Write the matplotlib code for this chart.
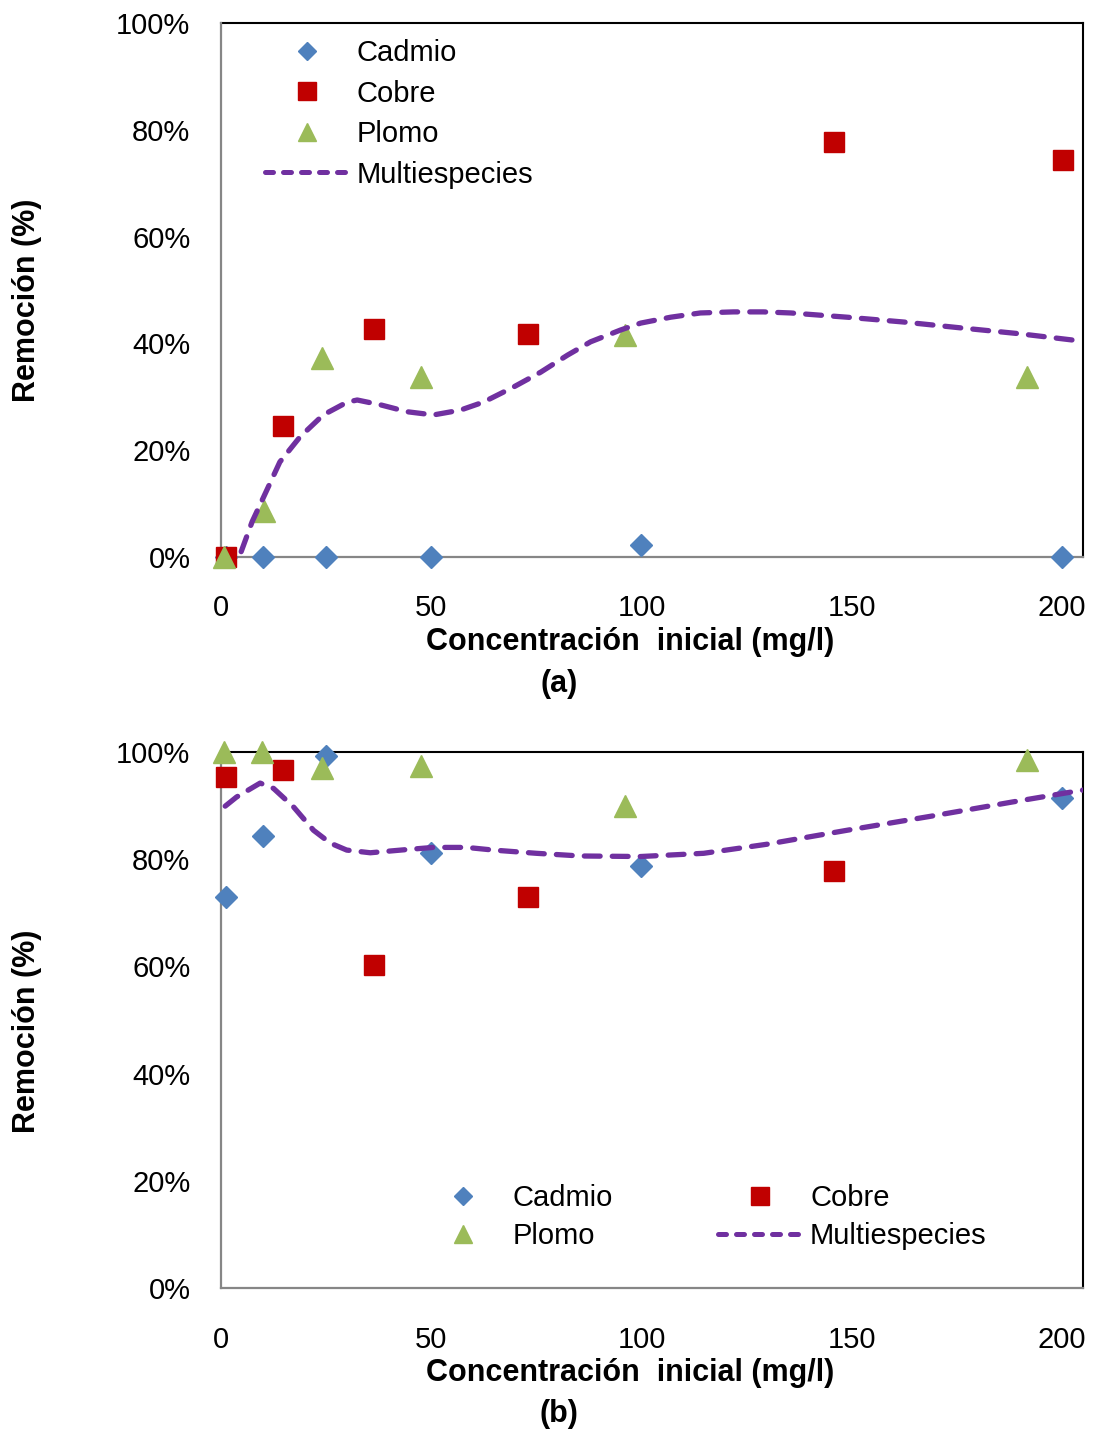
import matplotlib
matplotlib.use("Agg")
import matplotlib.pyplot as plt
from matplotlib.ticker import PercentFormatter
from matplotlib.lines import Line2D

plt.rcParams['font.family'] = ['Liberation Sans', 'DejaVu Sans']

# ---------------- data: panel (a) ----------------
a_cadmio_x = [1.2, 10, 25, 50, 100, 200]
a_cadmio_y = [0, 0, 0, 0, 2.2, 0]
a_cobre_x = [1.2, 14.7, 36.4, 72.9, 145.7, 200.2]
a_cobre_y = [0, 24.5, 42.7, 41.8, 77.7, 74.3]
a_plomo_x = [0.7, 10.2, 24, 47.6, 96, 191.7]
a_plomo_y = [0, 8.6, 37.3, 33.7, 41.6, 33.7]
a_multi_x = [4.8, 7.4, 11, 14, 18.8, 24.3, 30, 32.4, 37.9, 44.3, 50.5, 56.9,
             62.4, 69.5, 76, 82.4, 87.9, 95, 99.8, 106.9, 114, 121.9, 129,
             135.5, 149, 162.4, 176, 190, 205]
a_multi_y = [1.0, 6.6, 12.7, 17.8, 22.5, 26.6, 29.0, 29.4, 28.5, 27.2, 26.6, 27.5,
             29.0, 31.8, 34.6, 37.8, 40.3, 42.5, 43.8, 44.9, 45.7, 45.9, 45.9,
             45.7, 44.9, 44.0, 42.9, 41.8, 40.4]

# ---------------- data: panel (b) ----------------
b_cadmio_x = [1.2, 10, 25, 50, 100, 200]
b_cadmio_y = [72.9, 84.3, 99.3, 81.2, 78.7, 91.4]
b_cobre_x = [1.2, 14.7, 36.4, 72.9, 145.7]
b_cobre_y = [95.3, 96.6, 60.3, 72.9, 77.8]
b_plomo_x = [0.7, 9.8, 24, 47.6, 96, 191.7]
b_plomo_y = [100, 100, 97.0, 97.4, 89.9, 98.6]
b_multi_x = [1, 3.7, 9.3, 12.5, 17.2, 22, 26, 29.9, 35.5, 44.2, 50.5, 58.4,
             64.8, 75, 85.5, 99.8, 114.8, 129.9, 148.9, 168.7, 188.4, 203.5, 205]
b_multi_y = [89.9, 91.6, 94.2, 93.2, 89.8, 85.4, 83.0, 81.7, 81.2, 81.8, 82.2, 82.2,
             81.7, 81.1, 80.6, 80.5, 81.1, 82.8, 85.4, 88.0, 90.7, 92.7, 92.9]

x_ticks = [0, 50, 100, 150, 200]
y_ticks = [0, 20, 40, 60, 80, 100]
xlabel = "Concentración  inicial (mg/l)"
ylabel = "Remoción (%)"
labels = ['Cadmio', 'Cobre', 'Plomo', 'Multiespecies']

C_CD = '#4F81BD'
C_CU = '#C00000'
C_PB = '#9BBB59'
C_MU = '#7030A0'

FS = 21
FSB = 22

W, H = 1094, 1429
fig = plt.figure(figsize=(W / 100, H / 100), dpi=100)


def make_axes(top_px, bot_px):
    left, right = 221, 1083
    return fig.add_axes([left / W, 1 - bot_px / H, (right - left) / W, (bot_px - top_px) / H])


def style(ax):
    ax.set_xlim(0, 205)
    ax.set_ylim(0, 100)
    ax.set_xticks(x_ticks)
    ax.set_yticks(y_ticks)
    ax.yaxis.set_major_formatter(PercentFormatter(xmax=100, decimals=0))
    ax.tick_params(length=0, labelsize=FS)
    ax.tick_params(axis='y', pad=22)
    ax.tick_params(axis='x', pad=27)
    for s in ['top', 'right']:
        ax.spines[s].set_color('black')
        ax.spines[s].set_linewidth(1.5)
    for s in ['left', 'bottom']:
        ax.spines[s].set_color('#868686')
        ax.spines[s].set_linewidth(1.6)
        ax.spines[s].set_zorder(3)
    ax.set_xlabel(xlabel, fontsize=FSB, fontweight='bold')
    ax.set_ylabel(ylabel, fontsize=FSB, fontweight='bold')
    ax.xaxis.label.set_verticalalignment('center')
    ax.yaxis.label.set_verticalalignment('center')


def draw(ax, cdx, cdy, cux, cuy, pbx, pby, mux, muy):
    h1, = ax.plot(cdx, cdy, linestyle='none', marker='D', ms=11.7, color=C_CD,
                  clip_on=False, zorder=4)
    h2, = ax.plot(cux, cuy, linestyle='none', marker='s', ms=15, color=C_CU,
                  clip_on=False, zorder=5)
    h3, = ax.plot(pbx, pby, linestyle='none', marker='^', ms=16.5, color=C_PB,
                  clip_on=False, zorder=6)
    ax.plot(mux, muy, color=C_MU, lw=3.8, dashes=(3.0, 2.3),
            dash_capstyle='round', zorder=7)
    # legend proxy for the dashed line (shorter dashes, as in the original legend)
    h4 = Line2D([], [], color=C_MU, lw=3.6, dashes=(1.6, 2.0), dash_capstyle='round')
    return h1, h2, h3, h4


# ---------------- panel (a) ----------------
axa = make_axes(23, 557)
style(axa)
h = draw(axa, a_cadmio_x, a_cadmio_y, a_cobre_x, a_cobre_y,
         a_plomo_x, a_plomo_y, a_multi_x, a_multi_y)
axa.legend(handles=list(h), labels=labels, loc='upper left',
           bbox_to_anchor=(0.051, 0.97),
           frameon=False, fontsize=FS, handlelength=2.85, handletextpad=0.3,
           labelspacing=0.43, borderpad=0, borderaxespad=0, markerscale=0.82)
axa.xaxis.set_label_coords((630 - 221) / 862, (557 - 642) / 534)
axa.yaxis.set_label_coords((27 - 221) / 862, (557 - 300) / 534)
fig.text(559 / W, 1 - 684 / H, "(a)", fontsize=FSB, fontweight='bold',
         ha='center', va='center')

# ---------------- panel (b) ----------------
axb = make_axes(752, 1288)
style(axb)
h = draw(axb, b_cadmio_x, b_cadmio_y, b_cobre_x, b_cobre_y,
         b_plomo_x, b_plomo_y, b_multi_x, b_multi_y)
axb.legend(handles=[h[0], h[2], h[1], h[3]],
           labels=[labels[0], labels[2], labels[1], labels[3]], ncol=2,
           loc='upper left',
           bbox_to_anchor=((421 - 221) / 862, (1288 - 1184) / 536),
           frameon=False, fontsize=FS, handlelength=2.85, handletextpad=0.3,
           labelspacing=0.35, columnspacing=3.6, borderpad=0, borderaxespad=0,
           markerscale=0.82)
axb.xaxis.set_label_coords((630 - 221) / 862, (1288 - 1373) / 536)
axb.yaxis.set_label_coords((27 - 221) / 862, (1288 - 1031) / 536)
fig.text(559 / W, 1 - 1414 / H, "(b)", fontsize=FSB, fontweight='bold',
         ha='center', va='center')

fig.savefig("out.png", dpi=100)
